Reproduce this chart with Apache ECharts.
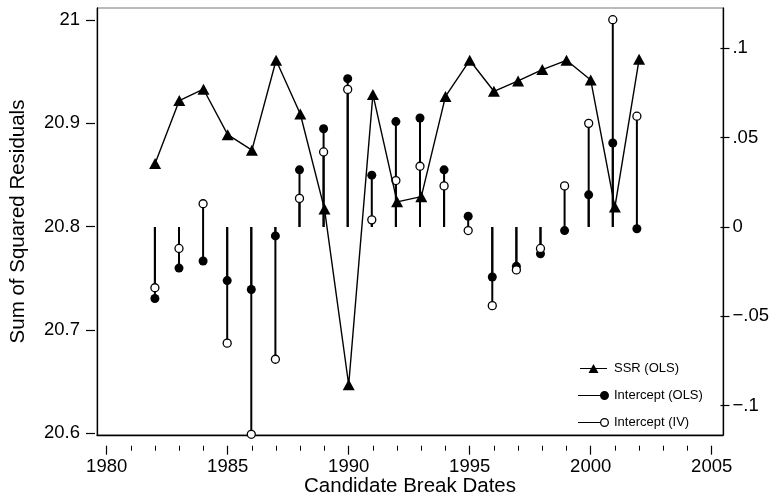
<!DOCTYPE html>
<html lang="en">
<head>
    <meta charset="UTF-8">
    <title>Candidate Break Dates</title>
    <style>
        * { margin: 0; padding: 0; }
        #main { width: 772px; height: 502px; background: #fff; }
    </style>
</head>
<body>
    <div id="main"></div>
    <script src="https://cdn.jsdelivr.net/npm/echarts@6/dist/echarts.min.js"></script>
    <script>
        // candidate break years
        var years = [1982, 1983, 1984, 1985, 1986, 1987, 1988, 1989, 1990, 1991, 1992,
            1993, 1994, 1995, 1996, 1997, 1998, 1999, 2000, 2001, 2002];
        // left axis: sum of squared residuals
        var ssrOls = [20.861, 20.922, 20.933, 20.889, 20.874, 20.961, 20.909, 20.817, 20.647, 20.928, 20.824,
            20.829, 20.926, 20.961, 20.931, 20.941, 20.952, 20.961, 20.942, 20.819, 20.962];
        // right axis: intercepts
        var interceptOls = [-0.040, -0.023, -0.019, -0.030, -0.035, -0.005, 0.032, 0.055, 0.083, 0.029, 0.059,
            0.061, 0.032, 0.006, -0.028, -0.022, -0.015, -0.002, 0.018, 0.047, -0.001];
        var interceptIv = [-0.034, -0.012, 0.013, -0.065, -0.116, -0.074, 0.016, 0.042, 0.077, 0.004, 0.026,
            0.034, 0.023, -0.002, -0.044, -0.024, -0.012, 0.023, 0.058, 0.116, 0.062];
        // tick labels
        var leftTicks = [20.6, 20.7, 20.8, 20.9, 21];
        var rightTickText = { '-0.1': '\u2212.1', '-0.05': '\u2212.05', '0': '0', '0.05': '.05', '0.1': '.1' };

        function pairs(vals) {
            return years.map(function (y, i) { return [y, vals[i]]; });
        }

        var font = 'Liberation Sans, Arial, Helvetica, sans-serif';
        var chart = echarts.init(document.getElementById('main'));

        var iconSsr = 'path://M0,3.9H27V5.1H0Z M8.5,9L13.5,0L18.5,9Z';
        var iconOls = 'path://M0,3.9H24V5.1H0Z M22,4.5A4.5,4.5 0 1 1 31,4.5A4.5,4.5 0 1 1 22,4.5Z';
        var iconIv = 'path://M0,3.9H22.2V5.1H0Z M22,4.5A4.5,4.5 0 1 1 31,4.5A4.5,4.5 0 1 1 22,4.5Z ' +
            'M23.3,4.5A3.2,3.2 0 1 0 29.7,4.5A3.2,3.2 0 1 0 23.3,4.5Z';

        var option = {
            animation: false,
            backgroundColor: '#fff',
            textStyle: { fontFamily: font, color: '#000' },
            grid: [
                // frame
                { left: 95, right: 49, top: 8, bottom: 56.3, show: true, borderColor: '#777', borderWidth: 1 },
                // left labelled scale
                { left: 106.7, right: 60.3, top: 20, bottom: 68.7 },
                // right labelled scale
                { left: 106.7, right: 60.3, top: 48.3, bottom: 96.3 }
            ],
            legend: {
                orient: 'vertical',
                left: 578,
                top: 362,
                padding: 0,
                itemWidth: 31,
                itemHeight: 9,
                itemGap: 14,
                textStyle: { fontSize: 13, fontFamily: font, color: '#000' },
                data: [
                    { name: 'SSR (OLS)', icon: iconSsr, itemStyle: { color: '#000', borderWidth: 0, opacity: 1 } },
                    { name: 'Intercept (OLS)', icon: iconOls, itemStyle: { color: '#000', borderWidth: 0, opacity: 1 } },
                    { name: 'Intercept (IV)', icon: iconIv, itemStyle: { color: '#000', borderWidth: 0, opacity: 1 } }
                ]
            },
            xAxis: [
                {
                    gridIndex: 0, type: 'value', min: 1979.52, max: 2005.47,
                    name: 'Candidate Break Dates', nameLocation: 'middle', nameGap: 41,
                    nameTextStyle: { fontSize: 20.5, color: '#000', fontFamily: font },
                    axisLine: { show: true, onZero: false, lineStyle: { color: '#000', width: 1.3 } },
                    axisTick: { show: false }, axisLabel: { show: false }, splitLine: { show: false }
                },
                {
                    gridIndex: 1, type: 'value', min: 1980, max: 2005, interval: 5, offset: 12.4,
                    axisLine: { show: false, onZero: false },
                    axisTick: { show: true, length: 9, lineStyle: { color: '#000', width: 1.2 } },
                    minorTick: { show: true, splitNumber: 5, length: 5, lineStyle: { color: '#000', width: 1 } },
                    axisLabel: {
                        fontSize: 18.5, color: '#000', margin: 12, fontFamily: font,
                        formatter: function (v) { return String(Math.round(v)); }
                    },
                    splitLine: { show: false }
                },
                {
                    gridIndex: 2, type: 'value', min: 1980, max: 2005, show: false,
                    axisLine: { show: false, onZero: false }
                }
            ],
            yAxis: [
                {
                    gridIndex: 0, type: 'value', position: 'left', min: 20.588, max: 21.012,
                    name: 'Sum of Squared Residuals', nameLocation: 'middle', nameGap: 68,
                    nameTextStyle: { fontSize: 20.5, color: '#000', fontFamily: font },
                    axisLine: { show: true, onZero: false, lineStyle: { color: '#000', width: 1.3 } },
                    axisTick: { show: false }, axisLabel: { show: false }, splitLine: { show: false }
                },
                {
                    gridIndex: 0, type: 'value', position: 'right', min: -0.1227, max: 0.1227,
                    axisLine: { show: true, onZero: false, lineStyle: { color: '#000', width: 1.3 } },
                    axisTick: { show: false }, axisLabel: { show: false }, splitLine: { show: false }
                },
                {
                    gridIndex: 1, type: 'value', position: 'left', min: leftTicks[0],
                    max: leftTicks[leftTicks.length - 1], interval: 0.1, offset: 11.7,
                    axisLine: { show: false, onZero: false },
                    axisTick: { show: true, length: 9, lineStyle: { color: '#000', width: 1.2 } },
                    axisLabel: {
                        fontSize: 18.5, color: '#000', margin: 15, fontFamily: font,
                        formatter: function (v) { return String(Math.round(v * 10) / 10); }
                    },
                    splitLine: { show: false }
                },
                {
                    gridIndex: 2, type: 'value', position: 'right', min: -0.1, max: 0.1, interval: 0.05, offset: 11.3,
                    axisLine: { show: false, onZero: false },
                    axisTick: { show: true, length: 9, lineStyle: { color: '#000', width: 1.2 } },
                    axisLabel: {
                        fontSize: 18.5, color: '#000', margin: 12, fontFamily: font,
                        formatter: function (v) {
                            var k = String(Math.round(v * 100) / 100);
                            return rightTickText[k] !== undefined ? rightTickText[k] : k;
                        }
                    },
                    splitLine: { show: false }
                }
            ],
            series: [
                {
                    name: 'OLS stem', type: 'bar', xAxisIndex: 2, yAxisIndex: 3,
                    barWidth: 2, barGap: '-100%', clip: false, silent: true,
                    itemStyle: { color: '#000' },
                    data: pairs(interceptOls)
                },
                {
                    name: 'IV stem', type: 'bar', xAxisIndex: 2, yAxisIndex: 3,
                    barWidth: 2, barGap: '-100%', clip: false, silent: true,
                    itemStyle: { color: '#000' },
                    data: pairs(interceptIv)
                },
                {
                    name: 'SSR (OLS)', type: 'line', xAxisIndex: 1, yAxisIndex: 2,
                    symbol: 'triangle', symbolSize: [12, 11], clip: false,
                    lineStyle: { color: '#000', width: 1.4 },
                    itemStyle: { color: '#000', opacity: 1 },
                    data: pairs(ssrOls)
                },
                {
                    name: 'Intercept (OLS)', type: 'scatter', xAxisIndex: 2, yAxisIndex: 3,
                    symbol: 'circle', symbolSize: 9, clip: false,
                    itemStyle: { color: '#000', opacity: 1 },
                    data: pairs(interceptOls)
                },
                {
                    name: 'Intercept (IV)', type: 'scatter', xAxisIndex: 2, yAxisIndex: 3,
                    symbol: 'circle', symbolSize: 8, clip: false,
                    itemStyle: { color: '#fff', borderColor: '#000', borderWidth: 1.3, opacity: 1 },
                    data: pairs(interceptIv)
                }
            ]
        };
        chart.setOption(option);
    </script>
</body>
</html>
